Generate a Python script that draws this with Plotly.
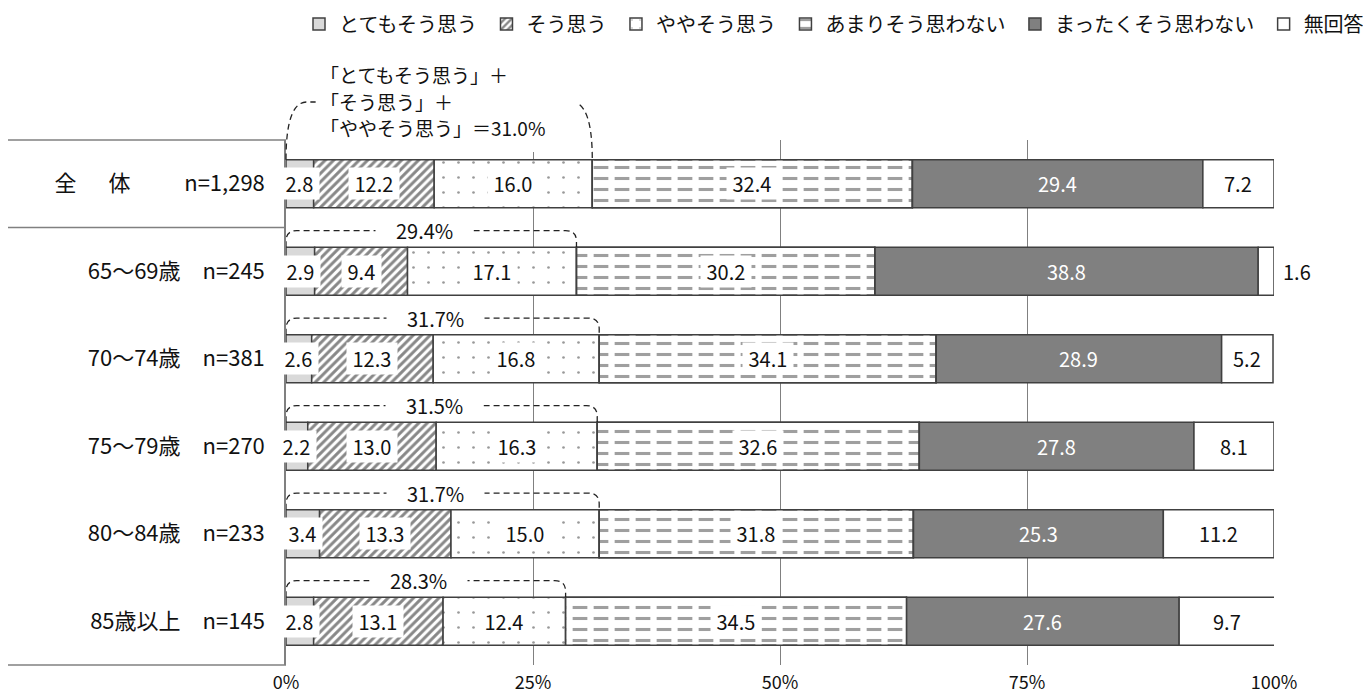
import plotly.graph_objects as go

# ---------------- data ----------------
categories = ["全体", "65～69歳", "70～74歳", "75～79歳", "80～84歳", "85歳以上"]
n_labels = ["n=1,298", "n=245", "n=381", "n=270", "n=233", "n=145"]
tick_labels = [
    "全\u3000\u00a0\u00a0体\u3000\u3000\u00a0\u00a0n=1,298",
    "65～69歳\u3000n=245",
    "70～74歳\u3000n=381",
    "75～79歳\u3000n=270",
    "80～84歳\u3000n=233",
    "85歳以上\u3000n=145",
]
series_names = ["とてもそう思う", "そう思う", "ややそう思う",
                "あまりそう思わない", "まったくそう思わない", "無回答"]
totemo = [2.8, 2.9, 2.6, 2.2, 3.4, 2.8]
sou = [12.2, 9.4, 12.3, 13.0, 13.3, 13.1]
yaya = [16.0, 17.1, 16.8, 16.3, 15.0, 12.4]
amari = [32.4, 30.2, 34.1, 32.6, 31.8, 34.5]
mattaku = [29.4, 38.8, 28.9, 27.8, 25.3, 27.6]
mukaitou = [7.2, 1.6, 5.2, 8.1, 11.2, 9.7]
x_ticks = [0, 25, 50, 75, 100]
x_tick_labels = ["0%", "25%", "50%", "75%", "100%"]
note_lines = ["「とてもそう思う」＋", "「そう思う」＋", "「ややそう思う」＝"]

# ---------------- styles ----------------
FONT = "Noto Sans CJK JP"
BORDER = dict(color="#404040", width=1.5)
BAR_W = 0.55
DASH = "6px,4px"
W, H = 1363, 687            # page adds an 8px body margin
ML, MR, MT, MB = 278, 97, 132, 30
plot_w = W - ML - MR
plot_h = H - MT - MB


def py(fig_px):
    """figure-pixel y (from top) -> paper fraction"""
    return 1 - (fig_px - MT) / plot_h


series = [totemo, sou, yaya, amari, mattaku, mukaitou]
rows = list(range(len(categories)))

bases = []
run = [0.0] * len(rows)
for vals in series:
    bases.append(run[:])
    run = [r + v for r, v in zip(run, vals)]

styles = [
    dict(color="#d9d9d9"),
    dict(color="white", pattern=dict(shape="/", fgcolor="#111111", bgcolor="white",
                                     size=6, solidity=0.5)),
    dict(color="white", pattern=dict(shape=".", fgcolor="#333333", bgcolor="white",
                                     size=15, solidity=0.025)),
    dict(color="white", pattern=dict(shape="-", fgcolor="#404040", bgcolor="white",
                                     size=11, solidity=0.28)),
    dict(color="#808080"),
    dict(color="white"),
]

fig = go.Figure()
for idx, (name, vals, base, st) in enumerate(zip(series_names, series, bases, styles)):
    label = name + ("\u00a0" if idx < len(series_names) - 1 else "")
    fig.add_trace(go.Bar(
        y=rows, x=vals, base=base, orientation="h", width=BAR_W, name=label,
        marker=dict(line=BORDER, **st), hoverinfo="skip"))

# overlay that breaks the horizontal lines of 「あまりそう思わない」 into dashes
fig.add_trace(go.Bar(
    y=rows, x=amari, base=bases[3], orientation="h", width=BAR_W, showlegend=False,
    marker=dict(color="white", line=BORDER,
                pattern=dict(shape="|", fgcolor="white", bgcolor="rgba(255,255,255,0)",
                             fgopacity=1, size=21, solidity=0.3)),
    hoverinfo="skip"))

annotations = []
shapes = []

for i in rows:
    for k in range(4):
        v = series[k][i]
        annotations.append(dict(
            x=bases[k][i] + v / 2, y=i, xref="x", yref="y",
            text=f"\u00a0{v:.1f}\u00a0", showarrow=False, bgcolor="white",
            borderpad=1, font=dict(size=20, color="#111111")))
    v = mattaku[i]
    annotations.append(dict(
        x=bases[4][i] + v / 2, y=i, xref="x", yref="y", text=f"{v:.1f}",
        showarrow=False, font=dict(size=20, color="white")))
    v = mukaitou[i]
    if v >= 3:
        annotations.append(dict(
            x=bases[5][i] + v / 2, y=i, xref="x", yref="y", text=f"{v:.1f}",
            showarrow=False, font=dict(size=20, color="#111111")))
    else:
        annotations.append(dict(
            x=bases[5][i] + v, y=i, xref="x", yref="y", text=f"{v:.1f}",
            showarrow=False, xanchor="left", xshift=7,
            font=dict(size=20, color="#111111")))

# brackets for rows 2..6
for i in rows[1:]:
    s = totemo[i] + sou[i] + yaya[i]
    yb = i - BAR_W / 2
    yc = i - 0.34
    yt = i - 0.465
    r = 1.1
    path = (f"M0,{yb} L0,{yc} Q0,{yt} {r},{yt} L{s - r},{yt} "
            f"Q{s},{yt} {s},{yc} L{s},{yb}")
    shapes.append(dict(type="path", xref="x", yref="y", path=path,
                       line=dict(color="#222222", width=1.3, dash=DASH)))
    annotations.append(dict(
        x=s / 2, y=yt, xref="x", yref="y", text=f"\u3000{s:.1f}%\u3000",
        showarrow=False, bgcolor="white", borderpad=0, xshift=-7,
        font=dict(size=20, color="#111111")))

# bracket + text for 全体
s0 = totemo[0] + sou[0] + yaya[0]
yb0 = 1 - (0.5 - BAR_W / 2) / len(rows)
yt0 = py(94)
rx = 0.021
x1 = s0 / 100
path0 = (f"M0,{yb0} Q0,{yt0} {rx},{yt0} L{x1 - rx},{yt0} "
         f"Q{x1},{yt0} {x1},{yb0}")
shapes.append(dict(type="path", xref="paper", yref="paper", path=path0,
                   line=dict(color="#222222", width=1.3, dash=DASH)))
# white panel behind the note (hides the gridlines there, as in the original)
shapes.append(dict(type="rect", xref="paper", yref="paper", layer="above",
                   x0=0.03, x1=0.295, y0=py(144), y1=py(52),
                   fillcolor="white", line=dict(width=0)))
note_texts = note_lines[:-1] + [note_lines[-1] + f"{s0:.1f}%"]
for line_text, fy in zip(note_texts, [66, 93, 120]):
    annotations.append(dict(
        x=0.032, y=py(fy), xref="paper", yref="paper", xanchor="left",
        yanchor="middle", align="left", showarrow=False,
        text=line_text, font=dict(size=19, color="#111111")))

# left table frame
for yy in [1, 1 - 1 / len(rows), 0]:
    shapes.append(dict(type="line", xref="paper", yref="paper",
                       x0=-0.282, x1=0, y0=yy, y1=yy,
                       line=dict(color="#808080", width=1.5)))

fig.update_layout(
    width=W, height=H,
    margin=dict(l=ML, r=MR, t=MT, b=MB, autoexpand=False),
    paper_bgcolor="white", plot_bgcolor="white",
    barmode="overlay",
    font=dict(family=FONT, size=18, color="#111111"),
    showlegend=True,
    legend=dict(orientation="h", xref="paper", yref="paper",
                x=(W - 2 - ML) / plot_w, xanchor="right",
                y=py(16), yanchor="middle",
                font=dict(size=20), traceorder="normal",
                bgcolor="rgba(0,0,0,0)"),
    annotations=annotations,
    shapes=shapes,
)
fig.update_xaxes(range=[0, 100], tickvals=x_ticks, ticktext=x_tick_labels,
                 showgrid=True, gridcolor="#808080", gridwidth=1.2,
                 zeroline=False, showline=False, ticks="", automargin=False,
                 tickfont=dict(size=18), ticklabelstandoff=5, fixedrange=True)
fig.update_yaxes(range=[5.5, -0.5], tickvals=rows, ticktext=tick_labels,
                 showline=True, linecolor="#808080", linewidth=1.5,
                 showgrid=False, zeroline=False, ticks="", automargin=False,
                 tickfont=dict(size=22), ticklabelstandoff=15, fixedrange=True)

fig.write_html("out.html")
